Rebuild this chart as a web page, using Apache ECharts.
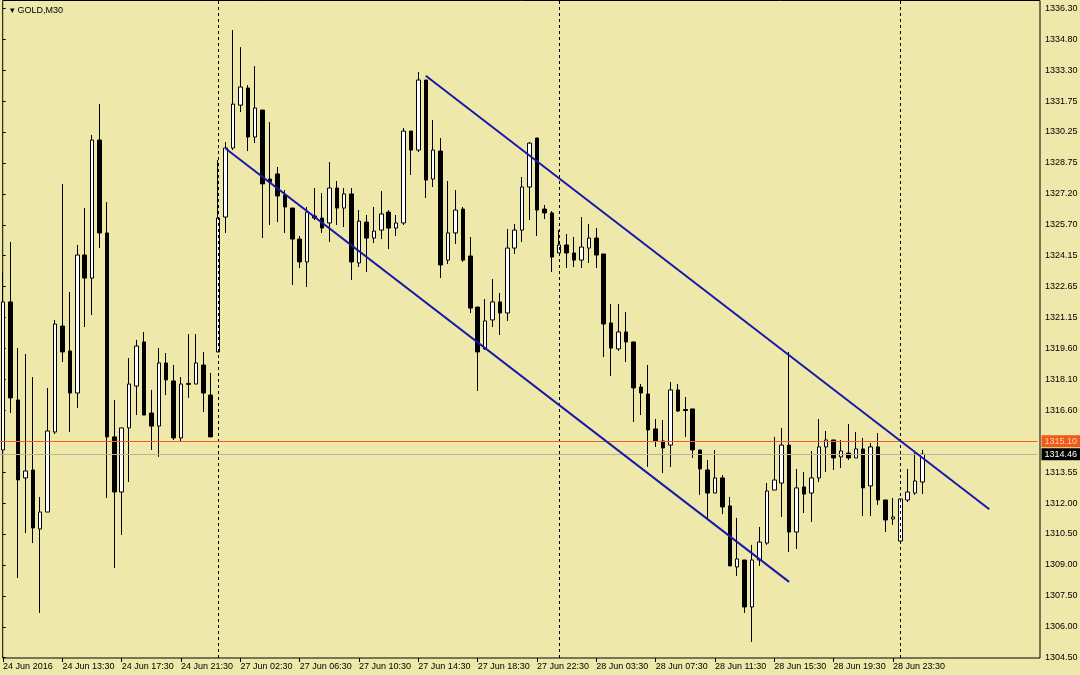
<!DOCTYPE html>
<html>
<head>
<meta charset="utf-8">
<script src="https://cdn.jsdelivr.net/npm/echarts@6/dist/echarts.min.js"></script>
<style>
html,body{margin:0;padding:0;background:#EEE8AA;}
#chart{width:1080px;height:675px;}
</style>
</head>
<body>
<div id="chart"></div>
<script>
// GOLD M30 candles, 24 Jun 2016 09:30 -> 29 Jun 02:30 (index 0..124)
const opens = [
1314.67,1321.92,1317.12,1313.30,1313.69,1310.80,1311.63,1315.55,1320.74,1319.52,
1317.46,1324.22,1323.09,1329.85,1325.30,1315.31,1312.61,1315.75,1317.80,1319.96,
1316.48,1315.84,1318.93,1318.05,1315.26,1317.88,1317.90,1318.83,1317.36,1319.47,
1326.08,1329.46,1331.56,1332.40,1330.00,1331.32,1327.94,1328.19,1327.16,1326.52,
1325.00,1323.88,1326.13,1326.03,1325.79,1327.50,1326.52,1327.21,1323.83,1325.83,
1325.05,1325.44,1326.32,1325.54,1325.79,1330.29,1329.36,1332.79,1327.94,1329.31,
1323.97,1325.30,1326.47,1324.17,1321.67,1319.62,1321.04,1321.92,1321.38,1324.56,
1325.44,1327.55,1329.95,1326.47,1326.28,1324.32,1324.71,1324.32,1323.97,1324.56,
1325.05,1324.27,1320.89,1319.62,1320.45,1319.96,1317.75,1317.41,1315.70,1315.11,
1314.91,1317.61,1316.65,1316.68,1314.67,1313.69,1312.56,1313.30,1311.93,1308.94,
1309.28,1306.98,1309.28,1310.11,1312.71,1313.05,1314.91,1310.65,1312.86,1312.56,
1313.30,1314.82,1315.16,1314.33,1314.52,1314.28,1314.72,1312.91,1314.82,1312.22,
1311.29,1310.21,1312.22,1312.56,1313.10
];
const closes = [
1321.92,1317.22,1313.20,1313.64,1310.85,1311.63,1315.60,1320.84,1319.47,1317.46,
1324.22,1323.09,1329.85,1325.30,1315.31,1312.61,1315.75,1317.90,1319.76,1316.38,
1315.84,1318.93,1318.10,1315.26,1317.90,1317.93,1318.93,1317.46,1315.31,1326.03,
1329.46,1331.61,1332.45,1330.00,1331.42,1327.70,1327.79,1327.11,1326.57,1325.00,
1323.88,1326.32,1326.03,1325.54,1327.50,1326.52,1327.21,1323.88,1325.88,1325.05,
1325.39,1326.23,1325.54,1325.79,1330.29,1329.36,1332.79,1327.89,1329.36,1323.73,
1325.30,1326.42,1323.97,1321.62,1319.47,1320.99,1321.92,1321.38,1324.56,1325.44,
1327.55,1329.70,1326.42,1326.28,1324.12,1324.71,1324.32,1323.97,1324.61,1325.05,
1324.22,1320.84,1319.66,1320.45,1319.96,1317.71,1317.46,1315.65,1315.11,1314.77,
1317.61,1316.58,1316.60,1314.67,1313.74,1312.56,1313.30,1311.88,1308.99,1309.33,
1306.98,1309.28,1310.16,1312.66,1313.20,1314.91,1310.65,1312.81,1312.51,1313.30,
1314.82,1315.16,1314.28,1314.62,1314.28,1314.72,1312.81,1314.82,1312.22,1311.24,
1311.39,1312.27,1312.61,1313.15,1314.46
];
const lows = [
1314.42,1316.48,1308.40,1310.60,1310.11,1306.69,1311.63,1315.45,1318.98,1315.55,
1316.73,1320.69,1321.28,1324.56,1312.32,1308.89,1310.51,1313.10,1316.38,1316.38,
1314.67,1314.33,1317.36,1315.16,1315.06,1317.22,1317.90,1316.53,1315.31,1319.47,
1325.30,1329.36,1331.22,1329.31,1329.70,1325.05,1325.69,1325.83,1325.30,1322.75,
1323.58,1322.65,1325.93,1325.30,1324.86,1325.69,1325.59,1322.99,1323.63,1323.39,
1324.81,1325.00,1324.51,1325.15,1325.69,1328.14,1329.26,1327.01,1327.55,1323.09,
1323.78,1324.76,1323.88,1321.38,1317.56,1319.57,1320.69,1320.30,1320.99,1324.27,
1324.86,1325.93,1325.15,1325.98,1323.39,1324.32,1323.58,1323.63,1323.58,1323.83,
1323.58,1319.22,1318.29,1319.52,1318.98,1316.04,1316.38,1313.84,1314.82,1313.54,
1313.84,1316.53,1315.31,1314.28,1312.47,1311.24,1312.56,1311.53,1308.99,1308.50,
1306.69,1305.27,1308.99,1310.02,1312.71,1311.39,1309.67,1309.82,1311.58,1311.14,
1313.10,1313.59,1313.69,1313.79,1314.18,1314.28,1311.44,1311.44,1311.98,1310.65,
1311.00,1310.11,1312.12,1312.47,1312.51
];
const highs = [
1323.39,1324.86,1319.66,1319.37,1318.24,1312.37,1317.71,1321.04,1327.70,1322.41,
1324.71,1326.52,1330.10,1331.61,1326.81,1317.12,1315.75,1319.17,1320.06,1320.45,
1317.61,1319.66,1319.42,1318.83,1318.24,1320.35,1320.35,1319.47,1318.44,1328.87,
1329.75,1335.24,1334.40,1332.54,1333.47,1331.32,1330.73,1328.53,1327.40,1326.52,
1325.15,1326.57,1327.50,1327.25,1328.77,1327.84,1327.50,1327.50,1326.42,1326.18,
1326.57,1327.35,1326.42,1326.18,1330.44,1330.29,1333.18,1332.79,1330.83,1329.95,
1327.84,1327.40,1326.57,1325.10,1321.67,1322.06,1323.04,1322.36,1325.49,1325.74,
1328.04,1329.75,1329.95,1326.67,1326.37,1325.44,1325.25,1325.10,1326.08,1325.74,
1325.54,1324.27,1321.82,1321.82,1321.43,1319.96,1317.90,1318.83,1316.19,1316.14,
1318.00,1317.90,1317.26,1316.68,1314.67,1314.18,1314.67,1313.44,1312.37,1311.34,
1309.28,1310.02,1310.90,1313.05,1315.31,1315.75,1319.47,1313.74,1313.59,1314.62,
1316.19,1315.60,1315.16,1315.16,1315.94,1315.55,1315.26,1315.01,1315.50,1312.22,
1312.32,1312.27,1313.74,1314.52,1314.67
];

// time-axis labels, one every 8 bars
const xTickLabels = ['24 Jun 2016','24 Jun 13:30','24 Jun 17:30','24 Jun 21:30',
  '27 Jun 02:30','27 Jun 06:30','27 Jun 10:30','27 Jun 14:30','27 Jun 18:30','27 Jun 22:30',
  '28 Jun 03:30','28 Jun 07:30','28 Jun 11:30','28 Jun 15:30','28 Jun 19:30','28 Jun 23:30'];
// price scale labels, top to bottom
const priceTicks = ['1336.30','1334.80','1333.30','1331.75','1330.25','1328.75','1327.20',
  '1325.70','1324.15','1322.65','1321.15','1319.60','1318.10','1316.60','1315.10','1313.55',
  '1312.00','1310.50','1309.00','1307.50','1306.00','1304.50'];
// day separators (bar index of first bar of each new day)
const daySeparators = [29, 75, 121];
// channel trend lines: [barIndex, price]
const upperChannel = [[57, 1333.00], [133, 1311.77]];
const lowerChannel = [[30, 1329.44], [106, 1308.21]];
// horizontal price levels
const levelLine = 1315.10;
const bidLine = 1314.46;

const SLOTS = 140;
const FONT = "'Liberation Sans',Arial,sans-serif";
const cats = Array.from({length: SLOTS}, (_, i) => String(i));
const candles = opens.map((o, i) => [o, closes[i], lows[i], highs[i]]);
const hasTick = i => i % 8 === 0 && (i / 8) < xTickLabels.length;

const chart = echarts.init(document.getElementById('chart'));
const none = ['none', 'none'];

const markData = [];
daySeparators.forEach(d => markData.push({
  xAxis: d, lineStyle: {color: '#000', width: 1, type: [3, 3]}, label: {show: false}
}));
markData.push({
  yAxis: levelLine, lineStyle: {color: '#F0601E', width: 1.2, type: 'solid'},
  label: {show: true, position: 'end', distance: 4, formatter: levelLine.toFixed(2),
    backgroundColor: '#EE5A1A', color: '#FFD2B4', padding: [2, 4, 1, 3], fontSize: 9, fontFamily: FONT}
});
markData.push({
  yAxis: bidLine, lineStyle: {color: '#B8B49C', width: 1, type: 'solid'},
  label: {show: true, position: 'end', distance: 4, formatter: bidLine.toFixed(2),
    backgroundColor: '#000', color: '#fff', padding: [2, 4, 1, 3], fontSize: 9, fontFamily: FONT}
});
[upperChannel, lowerChannel].forEach(ch => markData.push([
  {coord: ch[0], lineStyle: {color: '#1818A8', width: 2, type: 'solid'}, label: {show: false}},
  {coord: ch[1]}
]));

chart.setOption({
  animation: false,
  backgroundColor: '#EEE8AA',
  title: {
    text: '\u25BE GOLD,M30', left: 5, top: 1,
    textStyle: {fontSize: 9, fontWeight: 'normal', color: '#000', fontFamily: FONT}
  },
  grid: [
    {left: -0.6, right: 42.5, top: 0, bottom: 17, outerBoundsMode: 'none', containLabel: false},
    {left: 2.7, right: 40, top: 8.3, bottom: 17.3, outerBoundsMode: 'none', containLabel: false},
    {left: 2.7, right: 40, top: 0.5, bottom: 17, show: true, borderColor: '#000', borderWidth: 1,
     backgroundColor: 'transparent', outerBoundsMode: 'none', containLabel: false}
  ],
  xAxis: [
    {gridIndex: 0, type: 'category', data: cats, boundaryGap: true,
     axisLine: {show: false},
     axisTick: {show: true, alignWithLabel: true, interval: hasTick, length: 4, lineStyle: {color: '#000'}},
     axisLabel: {interval: hasTick, formatter: (v, idx) => xTickLabels[idx / 8] || '',
       align: 'left', margin: 4, color: '#000', fontSize: 9, fontFamily: FONT},
     splitLine: {show: false}},
    {gridIndex: 1, type: 'value', show: false},
    {gridIndex: 2, type: 'value', show: false}
  ],
  yAxis: [
    {gridIndex: 0, type: 'value', min: 1304.48, max: 1336.71, show: false, splitLine: {show: false}},
    {gridIndex: 1, type: 'category', position: 'right', data: priceTicks, inverse: true, boundaryGap: false,
     axisLine: {show: false},
     axisTick: {show: true, interval: 0, length: 3, lineStyle: {color: '#000'}},
     axisLabel: {interval: 0, margin: 5, color: '#000', fontSize: 9, fontFamily: FONT},
     splitLine: {show: false}},
    {gridIndex: 2, type: 'value', show: false}
  ],
  series: [{
    type: 'candlestick', xAxisIndex: 0, yAxisIndex: 0, data: candles, barWidth: 4,
    itemStyle: {color: '#fff', color0: '#000', borderColor: '#000', borderColor0: '#000', borderWidth: 1},
    markLine: {silent: true, symbol: none, animation: false, data: markData}
  }]
});
</script>
</body>
</html>
